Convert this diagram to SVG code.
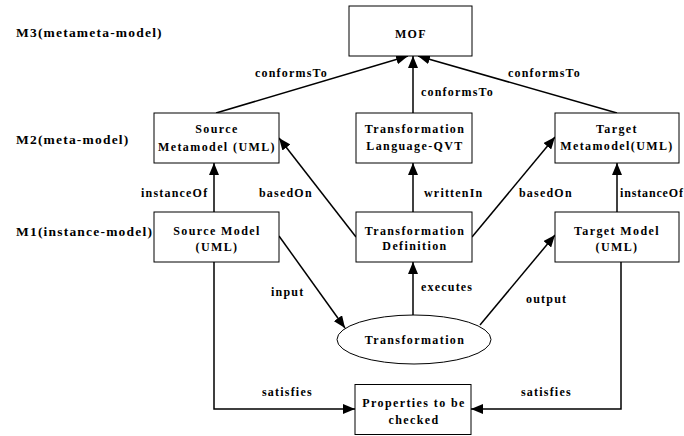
<svg xmlns="http://www.w3.org/2000/svg" width="684" height="436" viewBox="0 0 684 436">
<style>
text{font-family:"Liberation Serif","Times New Roman",serif;font-weight:bold;fill:#000}
.lvl{font-size:13.5px;letter-spacing:1.2px}
.box{font-size:12px;letter-spacing:1.4px;text-anchor:middle}
.lbl{font-size:12px;letter-spacing:1.2px}
.node rect,.node ellipse{fill:#fff;stroke:#000;stroke-width:1}
#connectors path{fill:none;stroke:#000;stroke-width:1.5}
</style>
<defs>
<marker id="arr" markerUnits="userSpaceOnUse" markerWidth="12" markerHeight="10" refX="12" refY="5" orient="auto" viewBox="0 0 12 10">
<path d="M0,0 L12,5 L0,10 z" fill="#000"/>
</marker>
</defs>
<rect width="684" height="436" fill="#fff"/>
<g id="levels">
<text class="lvl" x="16" y="37">M3(metameta-model)</text>
<text class="lvl" x="16" y="144">M2(meta-model)</text>
<text class="lvl" x="16" y="236">M1(instance-model)</text>
</g>
<g id="connectors">
<path d="M216,113 L408,56" marker-end="url(#arr)"/>
<path d="M413,113 L413,56" marker-end="url(#arr)"/>
<path d="M617,113 L418,56" marker-end="url(#arr)"/>
<path d="M214,212 L214,163" marker-end="url(#arr)"/>
<path d="M413,212 L413,163" marker-end="url(#arr)"/>
<path d="M617,212 L617,163" marker-end="url(#arr)"/>
<path d="M356,237 L279,138" marker-end="url(#arr)"/>
<path d="M472,237 L555,137" marker-end="url(#arr)"/>
<path d="M279,236 L345,328" marker-end="url(#arr)"/>
<path d="M413,315 L413,262" marker-end="url(#arr)"/>
<path d="M480,325 L555,235" marker-end="url(#arr)"/>
<path d="M214,262 L214,409 L355,409" marker-end="url(#arr)"/>
<path d="M621,262 L621,409 L471,409" marker-end="url(#arr)"/>
<text class="lbl" x="255" y="77">conformsTo</text>
<text class="lbl" x="421" y="96">conformsTo</text>
<text class="lbl" x="508" y="77">conformsTo</text>
<text class="lbl" x="141" y="197">instanceOf</text>
<text class="lbl" x="620" y="197" style="letter-spacing:0.85px">instanceOf</text>
<text class="lbl" x="259" y="197">basedOn</text>
<text class="lbl" x="519" y="197">basedOn</text>
<text class="lbl" x="424" y="197">writtenIn</text>
<text class="lbl" x="271" y="296">input</text>
<text class="lbl" x="421" y="291">executes</text>
<text class="lbl" x="526" y="303">output</text>
<text class="lbl" x="262" y="396">satisfies</text>
<text class="lbl" x="521" y="396">satisfies</text>
</g>
<g id="mof" class="node">
<rect x="349" y="6" width="123" height="50"/>
<text class="box" x="411" y="38">MOF</text>
</g>
<g id="source-metamodel" class="node">
<rect x="154" y="113" width="125" height="50"/>
<text class="box" x="217" y="133">Source</text>
<text class="box" x="217" y="150.5">Metamodel (UML)</text>
</g>
<g id="transformation-language" class="node">
<rect x="356" y="113" width="116" height="50"/>
<text class="box" x="415" y="133">Transformation</text>
<text class="box" x="415" y="150">Language-QVT</text>
</g>
<g id="target-metamodel" class="node">
<rect x="555" y="113" width="124" height="50"/>
<text class="box" x="617" y="133">Target</text>
<text class="box" x="617" y="150">Metamodel(UML)</text>
</g>
<g id="source-model" class="node">
<rect x="154" y="212" width="125" height="50"/>
<text class="box" x="217" y="234.5">Source Model</text>
<text class="box" x="217" y="250.5">(UML)</text>
</g>
<g id="transformation-definition" class="node">
<rect x="356" y="212" width="116" height="50"/>
<text class="box" x="415" y="234.5">Transformation</text>
<text class="box" x="415" y="250">Definition</text>
</g>
<g id="target-model" class="node">
<rect x="555" y="212" width="124" height="50"/>
<text class="box" x="617" y="234.5">Target Model</text>
<text class="box" x="617" y="250.5">(UML)</text>
</g>
<g id="transformation" class="node">
<ellipse cx="414" cy="339.5" rx="77" ry="24.5"/>
<text class="box" x="415" y="344">Transformation</text>
</g>
<g id="properties" class="node">
<rect x="355" y="384.5" width="116" height="50"/>
<text class="box" x="414" y="407">Properties to be</text>
<text class="box" x="414" y="424">checked</text>
</g>
</svg>
